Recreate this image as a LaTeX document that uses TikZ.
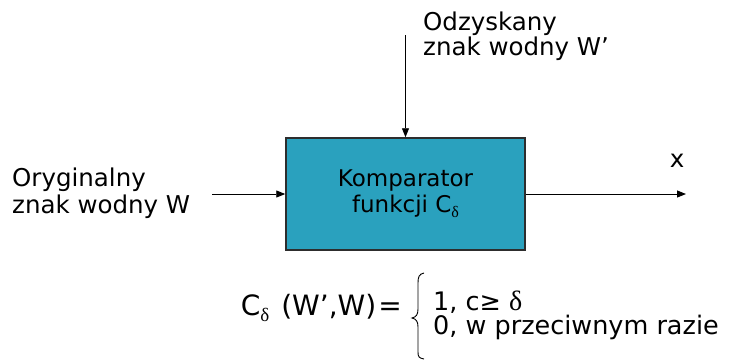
\documentclass[tikz,border=0pt]{standalone}
\usepackage{fontspec}
\setmainfont{DejaVu Sans}
\newfontfamily\greekfont{Liberation Serif}
\usetikzlibrary{arrows.meta}
\definecolor{compfill}{RGB}{42,161,190}
\definecolor{compedge}{RGB}{45,45,45}
\newcommand{\dlt}{{\greekfont δ}}

\begin{document}
\begin{tikzpicture}[x=1pt, y=-1pt,
    labeltext/.style={align=left, inner sep=0pt, font=\fontsize{24.5}{27}\selectfont},
    flow/.style={-{Triangle[length=9pt,width=7pt]}, line width=0.9pt}]
  \useasboundingbox (0,0) rectangle (732,360);
  \node[draw=compedge, fill=compfill, line width=1.5pt, minimum width=239pt, minimum height=112pt, align=center, inner sep=0pt, font=\fontsize{23}{26}\selectfont] (comp) at (405.5,194) {Komparator\\funkcji C\raisebox{-5pt}{\fontsize{16}{16}\selectfont\dlt}};
  \node[labeltext, font=\fontsize{24.5}{19.5}\selectfont, anchor=west] (wrec) at (423,36) {Odzyskany\\znak wodny W’};
  \node[labeltext, anchor=west] (worig) at (12,193) {Oryginalny\\znak wodny W};
  \node[labeltext, anchor=base] (xlbl) at (677,167) {x};
  \node[inner sep=0pt, anchor=base east, font=\fontsize{28}{28}\selectfont] (cdef) at (402,315) {C\raisebox{-6pt}{\fontsize{19}{19}\selectfont\dlt}\hspace{12pt}(W’,W)\hspace{2pt}=};
  \node[labeltext, font=\fontsize{25.5}{24}\selectfont, anchor=west] (cases) at (433,315) {1, c≥ {\fontsize{28}{20}\selectfont\dlt}\\0, w przeciwnym razie};
  \draw[line width=0.9pt] (424,273) .. controls (419,274) and (418,277) .. (418,283) -- (418,309) .. controls (418,315) and (416,317) .. (412,318) .. controls (416,319) and (418,321) .. (418,327) -- (418,352) .. controls (418,357) and (419,358) .. (424,359);
  \coordinate (toppt) at (405.5,35);
  \coordinate (inpt) at (212,194);
  \coordinate (outpt) at (686,194);
  \draw[flow] (toppt) -- (comp.north);
  \draw[flow] (inpt) -- (comp.west);
  \draw[flow] (comp.east) -- (outpt);
\end{tikzpicture}
\end{document}
